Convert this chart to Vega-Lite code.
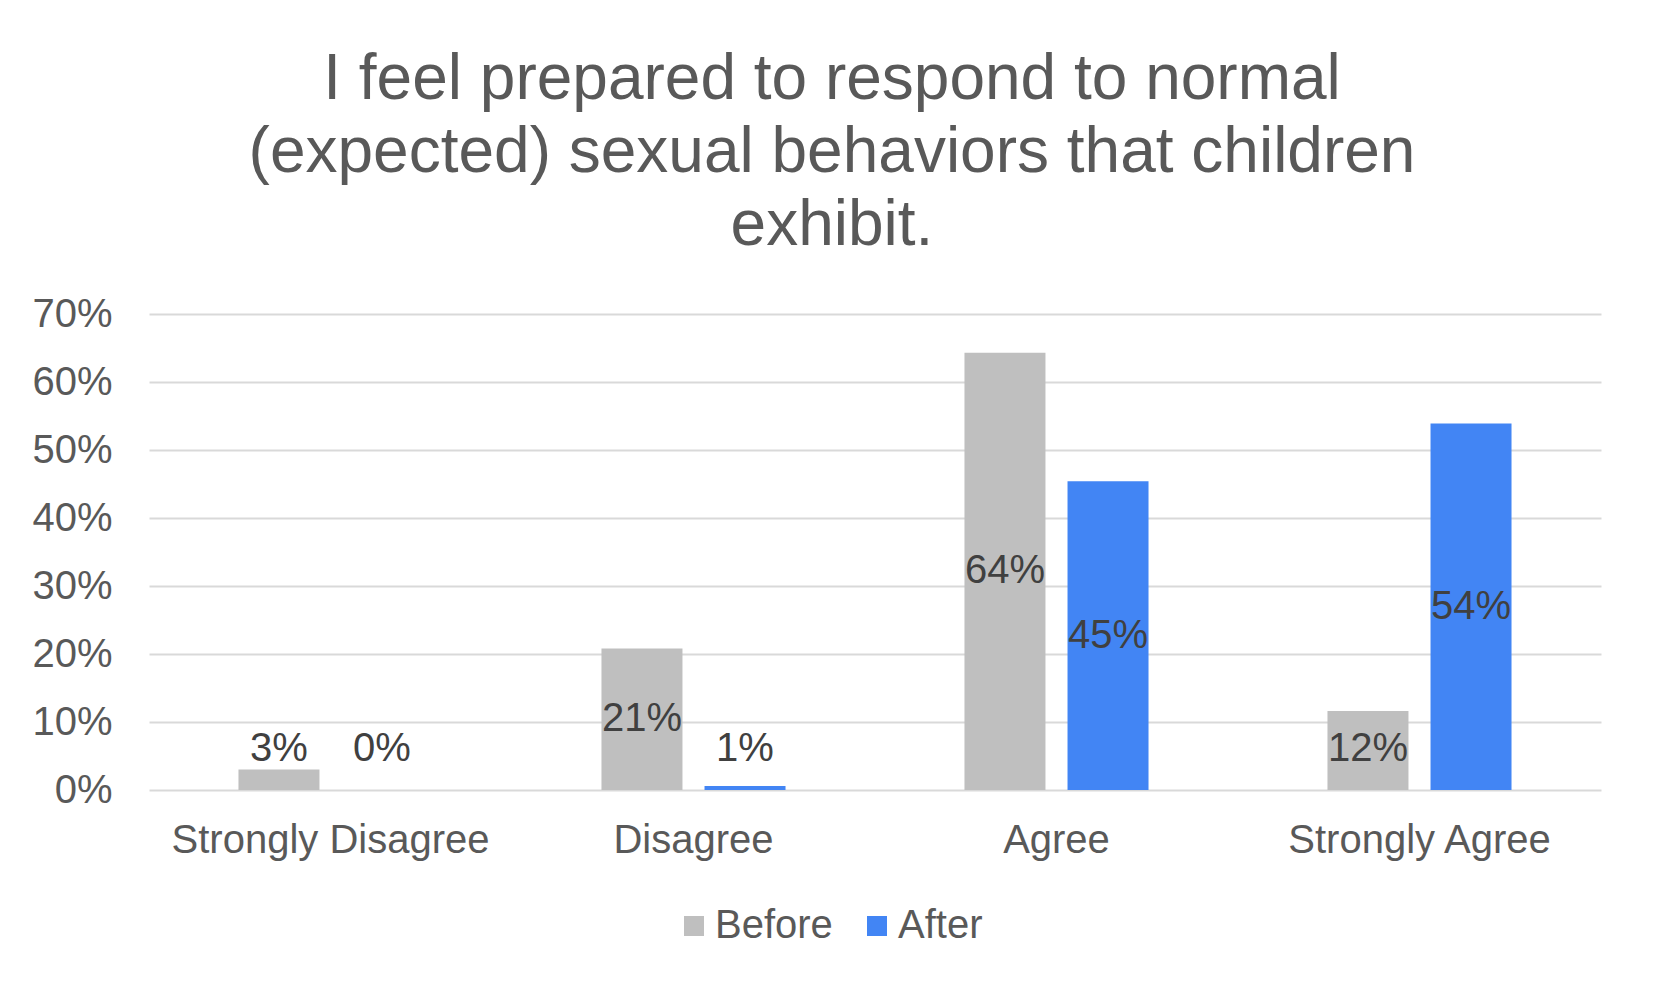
{
  "$schema": "https://vega.github.io/schema/vega-lite/v6.json",
  "width": 1452,
  "height": 476,
  "autosize": {"type": "none"},
  "padding": {"left": 149, "top": 314, "right": 52, "bottom": 203},
  "background": "white",
  "title": {
    "text": ["I feel prepared to respond to normal", "(expected) sexual behaviors that children", "exhibit."],
    "fontSize": 64,
    "font": "Liberation Sans",
    "fontWeight": "normal",
    "color": "#595959",
    "lineHeight": 73,
    "anchor": "middle",
    "frame": "group",
    "dx": -43,
    "offset": 36
  },
  "data": {
    "values": [
      {"response": "Strongly Disagree", "series": "Before", "value": 0.03},
      {"response": "Strongly Disagree", "series": "After", "value": 0.0},
      {"response": "Disagree", "series": "Before", "value": 0.208},
      {"response": "Disagree", "series": "After", "value": 0.006},
      {"response": "Agree", "series": "Before", "value": 0.643},
      {"response": "Agree", "series": "After", "value": 0.454},
      {"response": "Strongly Agree", "series": "Before", "value": 0.116},
      {"response": "Strongly Agree", "series": "After", "value": 0.539}
    ]
  },
  "transform": [{"calculate": "max(datum.value / 2, 0.061)", "as": "labelY"}],
  "encoding": {
    "x": {
      "field": "response",
      "type": "nominal",
      "sort": ["Strongly Disagree", "Disagree", "Agree", "Strongly Agree"],
      "scale": {"paddingInner": 0.493, "paddingOuter": 0.2465},
      "axis": {
        "title": null,
        "labelAngle": 0,
        "labelFontSize": 40,
        "labelFont": "Liberation Sans",
        "labelColor": "#595959",
        "labelLimit": 0,
        "ticks": false,
        "domain": false,
        "labelPadding": 30
      }
    },
    "xOffset": {
      "field": "series",
      "type": "nominal",
      "sort": ["Before", "After"],
      "scale": {"paddingInner": 0.214}
    }
  },
  "layer": [
    {
      "mark": {"type": "bar"},
      "encoding": {
        "y": {
          "field": "value",
          "type": "quantitative",
          "scale": {"domain": [0, 0.7], "nice": false},
          "axis": {
            "title": null,
            "format": ".0%",
            "values": [0, 0.1, 0.2, 0.3, 0.4, 0.5, 0.6, 0.7],
            "grid": true,
            "gridColor": "#d9d9d9",
            "gridWidth": 2,
            "domain": false,
            "ticks": false,
            "labelFontSize": 40,
            "labelFont": "Liberation Sans",
            "labelColor": "#595959",
            "labelPadding": 37
          }
        },
        "color": {
          "field": "series",
          "type": "nominal",
          "sort": ["Before", "After"],
          "scale": {"domain": ["Before", "After"], "range": ["#BFBFBF", "#4285F4"]},
          "legend": {
            "orient": "none",
            "legendX": 525,
            "legendY": 592,
            "direction": "horizontal",
            "title": null,
            "symbolType": "square",
            "symbolSize": 400,
            "symbolStrokeWidth": 0,
            "symbolOpacity": 1,
            "labelFontSize": 40,
            "labelFont": "Liberation Sans",
            "labelColor": "#595959",
            "labelOffset": 1,
            "columnPadding": 24,
            "padding": 0
          }
        }
      }
    },
    {
      "mark": {"type": "text", "fontSize": 40, "font": "Liberation Sans", "color": "#404040", "baseline": "middle"},
      "encoding": {
        "y": {"field": "labelY", "type": "quantitative", "axis": {"title": null}},
        "text": {"field": "value", "type": "quantitative", "format": ".0%"}
      }
    }
  ],
  "config": {"view": {"stroke": null}}
}
